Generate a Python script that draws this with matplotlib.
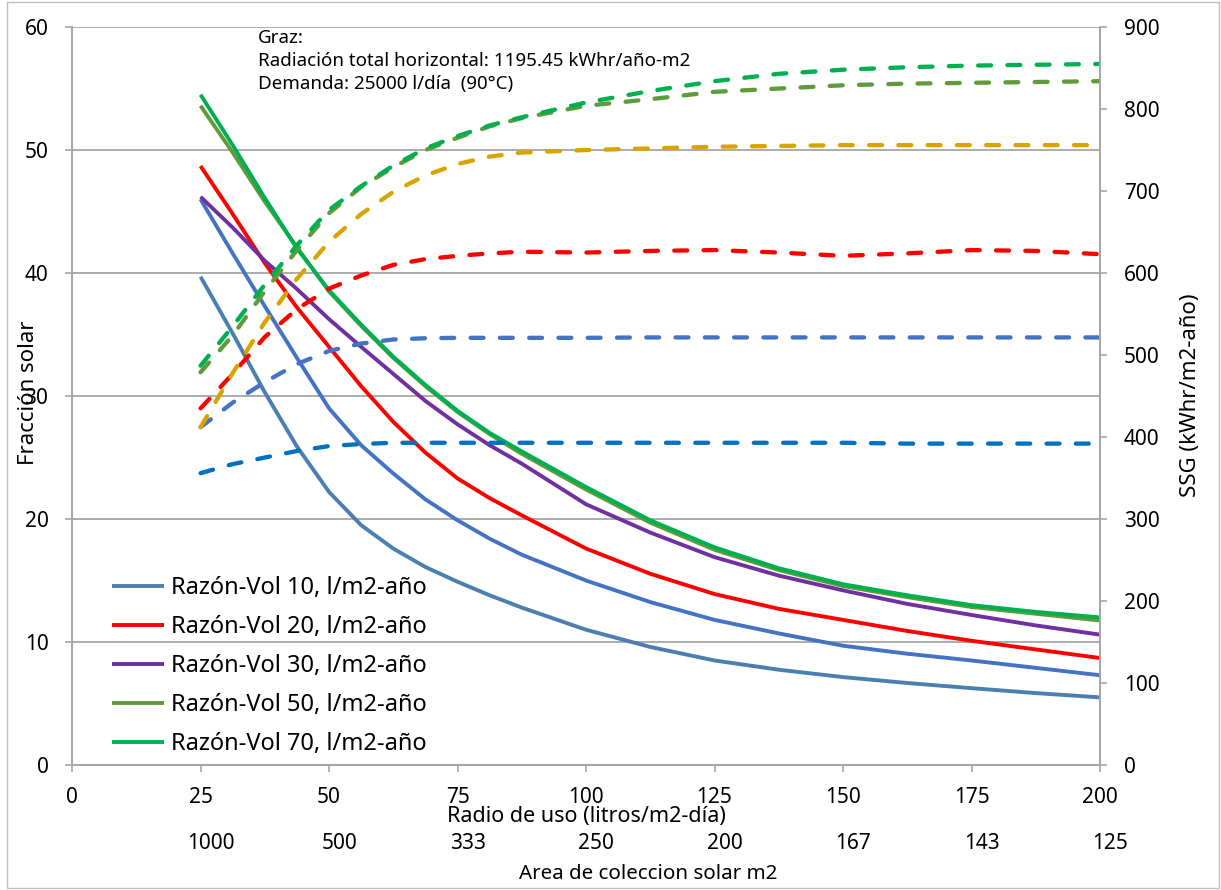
import matplotlib
matplotlib.use('Agg')
import matplotlib.pyplot as plt
import numpy as np
from matplotlib.patches import Rectangle

plt.rcParams['font.family'] = ['Noto Sans', 'DejaVu Sans']

# Radio de uso (litros/m2-dia)
radio = [25, 31.25, 37.5, 43.75, 50, 56.25, 62.5, 68.75, 75, 81.25, 87.5, 100,
         112.5, 125, 137.5, 150, 162.5, 175, 187.5, 200]

# Fraccion solar (left axis)
fs_vol10 = [39.7, 35.1, 30.3, 25.9, 22.2, 19.5, 17.6, 16.1, 14.9, 13.8, 12.8, 11.0,
            9.6, 8.5, 7.75, 7.15, 6.67, 6.25, 5.85, 5.5]
fs_vol15 = [46.0, 41.6, 37.3, 33.1, 29.0, 26.0, 23.7, 21.6, 19.9, 18.4, 17.1, 15.0,
            13.25, 11.8, 10.7, 9.7, 9.05, 8.5, 7.9, 7.3]
fs_vol20 = [48.7, 44.8, 40.8, 37.2, 34.0, 30.8, 27.9, 25.4, 23.3, 21.7, 20.3, 17.6,
            15.55, 13.9, 12.7, 11.8, 10.9, 10.1, 9.4, 8.7]
fs_vol30 = [46.2, 43.7, 41.0, 38.7, 36.25, 34.0, 31.8, 29.6, 27.7, 26.0, 24.5, 21.2,
            18.9, 16.9, 15.4, 14.2, 13.1, 12.2, 11.35, 10.6]
fs_vol50 = [53.6, 49.8, 45.8, 42.1, 38.5, 35.7, 33.1, 30.8, 28.7, 26.9, 25.3, 22.4,
            19.7, 17.5, 15.85, 14.55, 13.65, 12.85, 12.3, 11.75]
fs_vol70 = [54.5, 50.4, 46.1, 42.0, 38.6, 35.8, 33.2, 30.9, 28.8, 27.0, 25.5, 22.6,
            19.9, 17.7, 16.0, 14.7, 13.8, 13.0, 12.45, 12.0]

# SSG kWhr/m2-ano (right axis)
ssg_a = [356, 367, 375, 383, 389, 391.5, 393, 393, 393, 393, 393, 393,
         393, 393, 393, 393, 392, 392, 392, 392]
ssg_b = [412, 442, 467, 489, 505, 514, 519, 520.5, 521, 521, 521, 521,
         521.5, 521.5, 521.5, 521.5, 521.5, 521.5, 521.5, 521.5]
ssg_c = [435, 477, 522, 556, 581, 597, 610, 617, 621, 624, 626, 625,
         627, 628, 625, 621, 624, 628, 627, 623]
ssg_d = [412, 478, 540, 593, 638, 672, 699, 719, 733, 742, 747, 750,
         752, 754, 755, 756, 756, 756, 756, 756]
ssg_e = [479, 524, 578, 628, 673, 705, 729, 750, 765, 779, 789, 804,
         812, 821, 825, 829, 831, 832, 833, 834]
ssg_f = [487, 535, 586, 634, 677, 706, 731, 752, 767, 780, 790, 808,
         822, 834, 843, 848, 851, 853, 854, 855]

x_ticks = [0, 25, 50, 75, 100, 125, 150, 175, 200]
area_ticks = [25, 50, 75, 100, 125, 150, 175, 200]
area_labels = ['1000', '500', '333', '250', '200', '167', '143', '125']

gray = '#A6A6A6'

fig = plt.figure(figsize=(12.21, 8.9), dpi=100)
ax = fig.add_axes([0.059, 0.1404, 0.842, 0.8292])
ax2 = ax.twinx()

solid = [
    (fs_vol10, '#4a7fb0', 'Razón-Vol 10, l/m2-año'),
    (fs_vol15, '#4472C4', None),
    (fs_vol20, '#FF0000', 'Razón-Vol 20, l/m2-año'),
    (fs_vol30, '#7030A0', 'Razón-Vol 30, l/m2-año'),
    (fs_vol50, '#5f9b3c', 'Razón-Vol 50, l/m2-año'),
    (fs_vol70, '#00B050', 'Razón-Vol 70, l/m2-año'),
]
handles = []
for vals, col, lab in solid:
    ln, = ax.plot(radio, vals, color=col, lw=2.8, solid_capstyle='butt',
                  solid_joinstyle='round')
    if lab:
        ln.set_label(lab)
        handles.append(ln)

dashed = [
    (ssg_a, '#0070C0'),
    (ssg_b, '#4472C4'),
    (ssg_c, '#FF0000'),
    (ssg_d, '#D9A400'),
    (ssg_e, '#5f9b3c'),
    (ssg_f, '#00B050'),
]
for vals, col in dashed:
    ax2.plot(radio, vals, color=col, lw=3.1, dashes=(3.0, 3.8),
             dash_capstyle='round')

ax.set_xlim(0, 200)
ax.set_ylim(0, 60)
ax2.set_ylim(0, 900)
ax.set_xticks(x_ticks)
ax.set_yticks(range(0, 61, 10))
ax2.set_yticks(range(0, 901, 100))
ax.grid(axis='y', color=gray, lw=1.3)
ax.set_axisbelow(True)

for a in (ax, ax2):
    a.spines['top'].set_visible(False)
    for side in ('left', 'right', 'bottom'):
        a.spines[side].set_color(gray)
        a.spines[side].set_linewidth(1.3)
ax.tick_params(axis='both', direction='out', length=5, width=1.2,
               color=gray, labelsize=15, pad=12)
ax.tick_params(axis='x', pad=11)
ax2.tick_params(axis='y', direction='out', length=5, width=1.2,
                color=gray, labelsize=15, pad=12)

ax.set_xlabel('Radio de uso (litros/m2-día)', fontsize=15.5)
ax.xaxis.set_label_coords(0.5, -0.07)
ax.xaxis.label.set_va('center')
ax.set_ylabel('Fracción solar', fontsize=16)
ax.yaxis.set_label_coords(-0.042, 0.504)
ax.yaxis.label.set_va('center')
ax2.set_ylabel('SSG (kWhr/m2-año)', fontsize=16)
ax2.yaxis.set_label_coords(1.088, 0.501)
ax2.yaxis.label.set_va('center')

for xv, lab in zip(area_ticks, area_labels):
    ax.text(xv + 2.0, -0.106, lab, transform=ax.get_xaxis_transform(),
            ha='center', va='center', fontsize=15)
ax.text(0.56, -0.147, 'Area de coleccion solar m2', transform=ax.transAxes,
        ha='center', va='center', fontsize=14.8)

ax.text(0.181, 0.997,
        'Graz:\nRadiación total horizontal: 1195.45 kWhr/año-m2\n'
        'Demanda: 25000 l/día  (90°C)',
        transform=ax.transAxes, ha='left', va='top', fontsize=13.5,
        linespacing=1.36)

ax.legend(handles=handles, loc='upper left', bbox_to_anchor=(0.03, 0.269),
          frameon=False, fontsize=17, handlelength=2.2, handletextpad=0.3,
          labelspacing=0.64, borderaxespad=0)

fig.add_artist(Rectangle((0.006, 0.002), 0.992, 0.996, transform=fig.transFigure,
                         fill=False, edgecolor='#BFBFBF', lw=1))

fig.savefig('out.png', dpi=100, facecolor='white')
